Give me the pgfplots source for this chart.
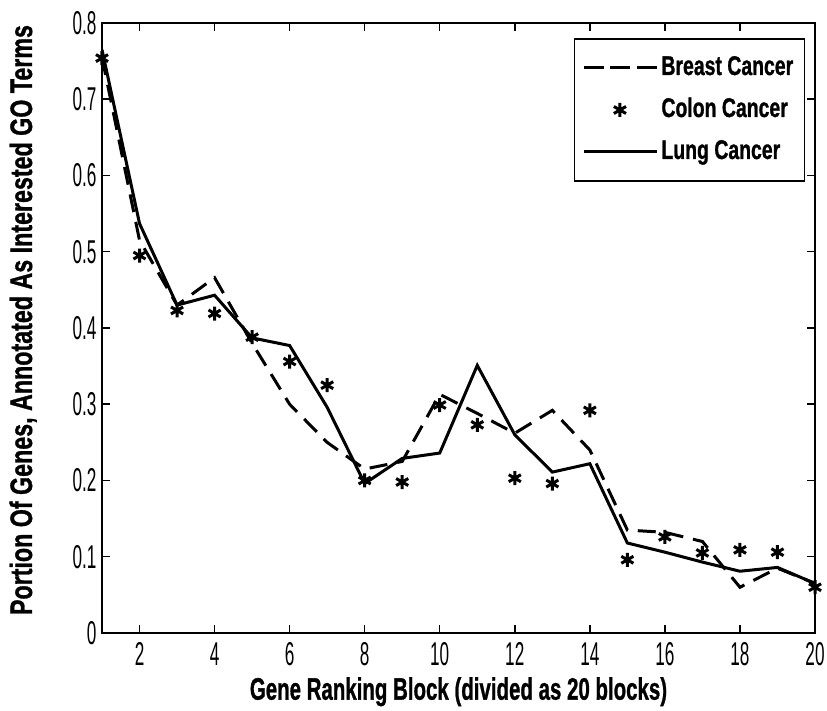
\documentclass[border=0pt]{standalone}
\usepackage{pgfplots}
\pgfplotsset{compat=1.18}
\usepackage{fontspec}
\setmainfont{Liberation Sans}
\newfontfamily\labfont{Liberation Sans Bold}[FakeBold=1.2]
\newfontfamily\tickfont{Liberation Sans}[FakeStretch=0.52]
\newcommand{\cond}[2][0.69]{\scalebox{#1}[1]{#2}}
\pgfplotstableread{
x breast colon lung
1 0.755 0.754 0.765
2 0.515 0.495 0.537
3 0.430 0.423 0.430
4 0.466 0.419 0.443
5 0.380 0.388 0.387
6 0.300 0.356 0.377
7 0.250 0.325 0.296
8 0.215 0.200 0.196
9 0.225 0.198 0.229
10 0.313 0.299 0.236
11 0.288 0.273 0.351
12 0.262 0.203 0.260
13 0.292 0.196 0.211
14 0.240 0.292 0.222
15 0.135 0.096 0.118
16 0.132 0.126 0.106
17 0.120 0.105 0.093
18 0.060 0.109 0.081
19 0.085 0.106 0.086
20 0.065 0.060 0.065
}\data
\begin{document}
\begin{tikzpicture}
\useasboundingbox (-102pt,-78pt) rectangle (725pt,633pt);
\begin{axis}[
  scale only axis,
  width=713pt, height=610pt,
  xmin=1, xmax=20, ymin=0, ymax=0.8,
  xtick={2,4,...,20},
  xticklabels={2,4,6,8,10,12,14,16,18,20},
  ytick={0,0.1,0.2,0.3,0.4,0.5,0.6,0.7,0.8},
  yticklabels={0,0.1,0.2,0.3,0.4,0.5,0.6,0.7,0.8},
  tick align=inside,
  major tick length=8pt,
  tick style={line width=1.5pt,black},
  axis line style={line width=2pt},
  ticklabel style={font=\tickfont\fontsize{33}{33}\selectfont},
  xticklabel style={yshift=-6pt},
  yticklabel style={xshift=-2pt},
  xlabel={\cond[0.66]{Gene Ranking Block (divided as 20 blocks)}},
  ylabel={\cond[0.75]{Portion Of Genes, Annotated As Interested GO Terms}},
  label style={font=\labfont\fontsize{31}{31}\selectfont},
  xlabel style={at={([yshift=-44pt]axis description cs:0.5,0)},anchor=north,inner sep=0pt},
  ylabel style={at={([xshift=-65pt]axis description cs:0,0.513)},rotate=0,anchor=south,inner sep=0pt},
  legend style={at={(0.986,0.975)},anchor=north east,draw=black,line width=1.5pt,
    font=\labfont\fontsize{27}{27}\selectfont,
    inner xsep=8pt, inner ysep=16pt, row sep=16pt,
    nodes={inner xsep=3pt, inner ysep=0pt, text height=20pt, text depth=6pt}},
  legend cell align=left,
]
\addplot[black,line width=3pt,dash pattern=on 18pt off 10pt,
  legend image code/.code={\draw[black,line width=3pt,dash pattern=on 20pt off 6.5pt] (0pt,0pt) -- (73pt,0pt);}]
  table[x=x,y=breast]{\data};
\addlegendentry{\cond[0.72]{Breast Cancer}}
\addplot[black,only marks,mark=asterisk,mark size=7pt,line width=3pt,
  legend image code/.code={\draw[black,line width=3pt] plot[mark=asterisk,mark size=7pt] coordinates {(36pt,0pt)};}]
  table[x=x,y=colon]{\data};
\addlegendentry{\cond[0.72]{Colon Cancer}}
\addplot[black,line width=3pt,
  legend image code/.code={\draw[black,line width=3pt] (0pt,0pt) -- (73pt,0pt);}]
  table[x=x,y=lung]{\data};
\addlegendentry{\cond[0.72]{Lung Cancer}}
\end{axis}
\end{tikzpicture}
\end{document}
